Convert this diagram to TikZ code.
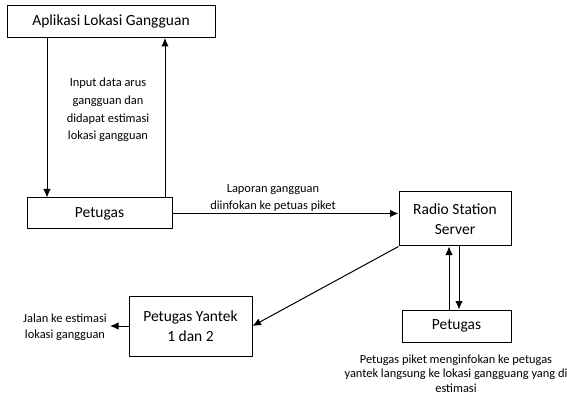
\documentclass[tikz,border=0pt]{standalone}
\usepackage{fontspec}
\setmainfont{Carlito}
\usetikzlibrary{arrows.meta}
\begin{document}
\begin{tikzpicture}[x=1pt,y=-1pt,
  box/.style={draw,line width=1pt,inner sep=0pt,align=center,font=\fontsize{15.5}{19.5}\selectfont},
  lbl/.style={align=center,inner sep=0pt,font=\fontsize{12.4}{17.6}\selectfont},
  arr/.style={line width=1pt,-{Latex[length=8.5pt,width=7.5pt]}}]
\useasboundingbox (0,0) rectangle (567,403);
\node[box,minimum width=208pt,minimum height=32pt] (A) at (111,21.5) {Aplikasi Lokasi Gangguan};
\node[box,minimum width=145pt,minimum height=31pt] (P1) at (99.5,213.5) {Petugas};
\node[box,minimum width=112pt,minimum height=54pt] (R) at (455,219) {Radio Station\\Server};
\node[box,minimum width=109pt,minimum height=32pt] (P2) at (456.5,326) {Petugas};
\node[box,minimum width=123pt,minimum height=60pt] (Y) at (190.5,326) {Petugas Yantek\\1 dan 2};
\coordinate (xa) at (47,0);
\coordinate (xb) at (165,0);
\coordinate (xc) at (449,0);
\coordinate (xd) at (459,0);
\coordinate (jal) at (110,326);
\draw[arr] (A.south -| xa) -- (P1.north -| xa);
\draw[arr] (P1.north -| xb) -- (A.south -| xb);
\draw[arr] (P1.east) -- (P1.east -| R.west);
\draw[arr] (R.south west) -- (Y.east);
\draw[arr] (P2.north -| xc) -- (R.south -| xc);
\draw[arr] (R.south -| xd) -- (P2.north -| xd);
\draw[arr] (Y.west) -- (jal);
\node[lbl] (l1) at (108,110) {Input data arus\\gangguan dan\\didapat estimasi\\lokasi gangguan};
\node[lbl,font=\fontsize{12.4}{17}\selectfont] (l2) at (273,198) {Laporan gangguan\\diinfokan ke petuas piket};
\node[lbl,font=\fontsize{12.4}{16}\selectfont] (l3) at (65,327) {Jalan ke estimasi\\lokasi gangguan};
\node[lbl,font=\fontsize{12.4}{14.6}\selectfont] (l4) at (456,373.5) {Petugas piket menginfokan ke petugas\\yantek langsung ke lokasi gangguang yang di\\estimasi};
\end{tikzpicture}
\end{document}
